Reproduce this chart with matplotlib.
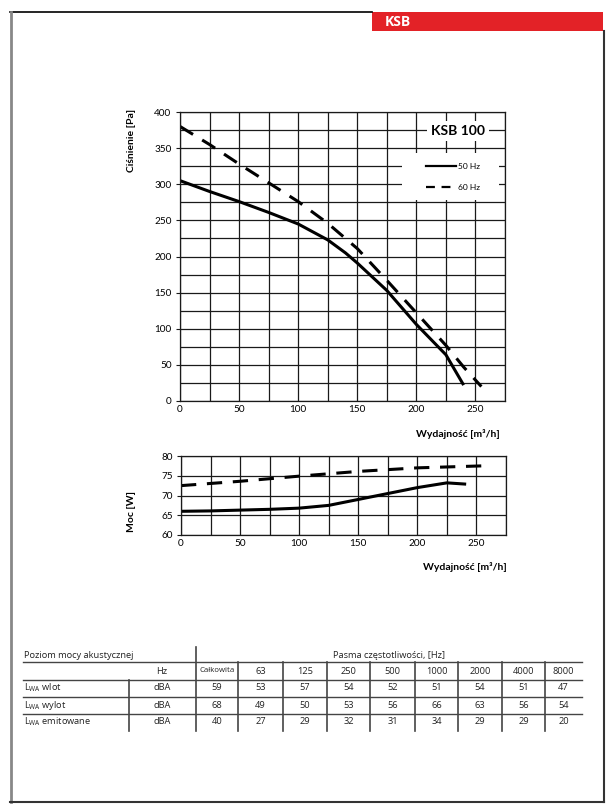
import matplotlib.pyplot as plt
from matplotlib.lines import Line2D
from matplotlib.patches import Rectangle

plt.rcParams['font.family'] = ['Lato', 'DejaVu Sans']

# pressure curves [Pa] vs flow [m3/h]
q50 = [0, 25, 50, 75, 100, 125, 140, 150, 175, 200, 225, 240]
p50 = [305, 290, 276, 261, 245, 223, 205, 191, 153, 106, 64, 22]
q60 = [0, 25, 50, 75, 100, 125, 150, 175, 200, 225, 240, 255]
p60 = [380, 355, 328, 302, 276, 246, 211, 167, 122, 77, 47, 20]

# power curves [W]
qm50 = [0, 25, 50, 75, 100, 125, 150, 175, 200, 225, 240]
m50 = [66.0, 66.1, 66.3, 66.5, 66.8, 67.5, 69.0, 70.5, 72.0, 73.2, 72.9]
qm60 = [0, 50, 100, 150, 200, 255]
m60 = [72.5, 73.6, 74.9, 76.1, 77.0, 77.5]

# acoustic table
bands = ['Całkowita', '63', '125', '250', '500', '1000', '2000', '4000', '8000']
row_names = ['wlot', 'wylot', 'emitowane']
lwa = [[59, 53, 57, 54, 52, 51, 54, 51, 47],
       [68, 49, 50, 53, 56, 66, 63, 56, 54],
       [40, 27, 29, 32, 31, 34, 29, 29, 20]]

W, H = 612, 809
fig = plt.figure(figsize=(W / 100, H / 100), dpi=100)

def px_axes(l, t, r, b):
    return fig.add_axes([l / W, 1 - b / H, (r - l) / W, (b - t) / H])

gc = '#1a1a1a'

def style(ax, xlim, ylim, xstep, ystep, ylab_step):
    ax.set_xlim(*xlim)
    ax.set_ylim(*ylim)
    ax.set_xticks(range(0, 251, 50))
    ax.set_xticks(range(0, xlim[1] + 1, xstep), minor=True)
    ax.set_yticks(range(ylim[0], ylim[1] + 1, ylab_step))
    ax.set_yticks(range(ylim[0], ylim[1] + 1, ystep), minor=True)
    ax.grid(True, which='both', color=gc, lw=0.9)
    ax.tick_params(which='both', length=3, width=0.8, color=gc, labelsize=7.2, pad=3)
    ax.tick_params(which='minor', length=0)
    ax.tick_params(axis='x', length=0)
    for s in ax.spines.values():
        s.set_color(gc)
        s.set_linewidth(0.9)
    ax.set_axisbelow(True)

# ---- pressure chart
ax = px_axes(180, 112, 505, 401)
style(ax, (0, 275), (0, 400), 25, 25, 50)
ax.plot(q50, p50, color='black', lw=2.2, solid_capstyle='butt')
ax.plot(q60, p60, color='black', lw=2.2, dashes=(5, 3.5))
ax.text(0.855, 0.935, 'KSB 100', transform=ax.transAxes, ha='center', va='center',
        fontsize=10, fontweight='bold',
        bbox=dict(facecolor='white', edgecolor='none', pad=3))
ax.add_patch(Rectangle((0.683, 0.696), 0.30, 0.162, transform=ax.transAxes,
                       facecolor='white', edgecolor='none', zorder=3))
handles = [Line2D([], [], color='black', lw=1.6),
           Line2D([], [], color='black', lw=1.6, dashes=(4, 3))]
leg = ax.legend(handles, ['50 Hz', '60 Hz'], loc='center', bbox_to_anchor=(0.84, 0.775),
                frameon=False, fontsize=6, handlelength=3.6, labelspacing=1.6,
                handletextpad=0.3)
leg.set_zorder(4)
fig.text(132 / W, 1 - 109 / H, 'Ciśnienie [Pa]', rotation=90, ha='center', va='top',
         fontsize=7.5, fontweight='bold')
fig.text(500 / W, 1 - 434 / H, 'Wydajność [m³/h]', ha='right', va='center',
         fontsize=7.5, fontweight='bold')

# ---- power chart
ax2 = px_axes(181, 456, 506, 535)
style(ax2, (0, 275), (60, 80), 25, 5, 5)
ax2.plot(qm50, m50, color='black', lw=2.2)
ax2.plot(qm60, m60, color='black', lw=2.2, dashes=(5, 3.5))
fig.text(132 / W, 1 - 511 / H, 'Moc [W]', rotation=90, ha='center', va='center',
         fontsize=7.5, fontweight='bold')
fig.text(507 / W, 1 - 567 / H, 'Wydajność [m³/h]', ha='right', va='center',
         fontsize=7.5, fontweight='bold')

# ---- page frame and table on an overlay
ov = fig.add_axes([0, 0, 1, 1])
ov.set_xlim(0, W)
ov.set_ylim(H, 0)
ov.axis('off')
ov.plot([10, 372], [11.5, 11.5], color='black', lw=1.2)
ov.plot([10.5, 10.5], [12, 802], color='#888888', lw=2)
ov.plot([10, 604], [802, 802], color='#333333', lw=1.5)
ov.plot([604, 604], [31, 802], color='#333333', lw=1.5)
ov.add_patch(Rectangle((372, 12), 231, 19, facecolor='#e32227', edgecolor='none'))
ov.text(385, 22, 'KSB', color='white', fontsize=10, fontweight='bold', va='center',
        family=['Open Sans', 'DejaVu Sans'])

tf = dict(family=['Open Sans', 'DejaVu Sans'], color='#222222', va='center')
lc = '#444444'
cols = [196, 238, 283, 327, 370, 415, 458, 502, 545, 582]
hl = [662, 680, 697, 714]
for y in hl:
    ov.plot([23, 582], [y] * 2, color=lc, lw=1.0)
ov.plot([196, 196], [647, 731], color=lc, lw=1.2)
ov.plot([129, 129], [680, 731], color=lc, lw=1.2)
for x in cols[1:-1]:
    ov.plot([x, x], [662, 731], color=lc, lw=1.2)

ov.text(24, 655, 'Poziom mocy akustycznej', fontsize=6.7, **tf)
ov.text(389, 655, 'Pasma częstotliwości, [Hz]', fontsize=6.7, ha='center', **tf)
ov.text(162, 671, 'Hz', fontsize=6.7, ha='center', **tf)
for i, b in enumerate(bands):
    xc = (cols[i] + cols[i + 1]) / 2
    ov.text(xc, 671, b, fontsize=5.6 if i == 0 else 6.7, ha='center', **tf)
ry = [688, 705, 722]
for j, name in enumerate(row_names):
    ov.text(24, ry[j], '$\\mathregular{L_{WA}}$ ' + name, fontsize=6.7, **tf)
    ov.text(162, ry[j], 'dBA', fontsize=6.7, ha='center', **tf)
    for i, v in enumerate(lwa[j]):
        xc = (cols[i] + cols[i + 1]) / 2
        ov.text(xc, ry[j], str(v), fontsize=6.7, ha='center', **tf)

fig.savefig('out.png', dpi=100, facecolor='white')
